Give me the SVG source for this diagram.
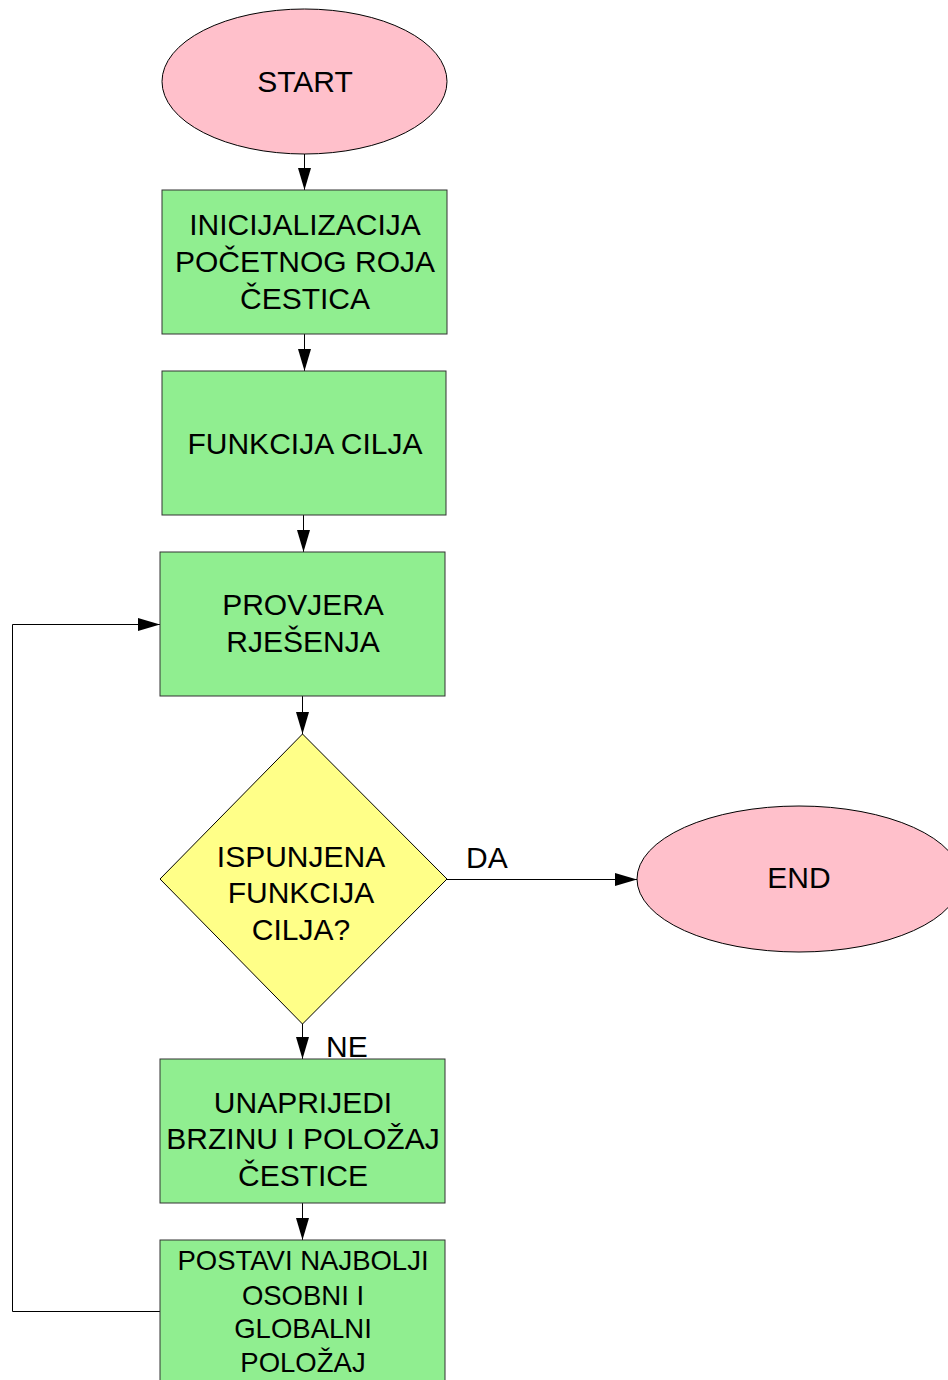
<svg xmlns="http://www.w3.org/2000/svg" width="948" height="1380" viewBox="0 0 948 1380">
<style>
text{font-family:"Liberation Sans",Arial,sans-serif;font-size:30px;fill:#000;text-anchor:middle}
.box{fill:#90ee90;stroke:#333;stroke-width:1}
.term{fill:#ffc0cb;stroke:#000;stroke-width:1}
.dec{fill:#ffff88;stroke:#000;stroke-width:1}
.con{fill:none;stroke:#000;stroke-width:1}
.lbl{text-anchor:start}
</style>
<defs>
<marker id="ah" markerUnits="userSpaceOnUse" markerWidth="22" markerHeight="13" refX="22" refY="6.5" orient="auto">
<path d="M0,0 L22,6.5 L0,13 z" fill="#000"/>
</marker>
</defs>
<rect width="948" height="1380" fill="#fff"/>
<g id="connectors">
<path class="con" d="M304.5,154 V190" marker-end="url(#ah)"/>
<path class="con" d="M304.5,334 V371" marker-end="url(#ah)"/>
<path class="con" d="M303.5,515 V552" marker-end="url(#ah)"/>
<path class="con" d="M302.5,696 V734" marker-end="url(#ah)"/>
<path class="con" d="M447,879.5 H637" marker-end="url(#ah)"/>
<path class="con" d="M302.5,1024 V1059" marker-end="url(#ah)"/>
<path class="con" d="M302.5,1203 V1240" marker-end="url(#ah)"/>
<path class="con" d="M160,1311.5 H12.5 V624.5 H160" marker-end="url(#ah)"/>
<text class="lbl" x="466" y="868">DA</text>
<text class="lbl" x="326" y="1057">NE</text>
</g>
<g id="start">
<ellipse class="term" cx="304.5" cy="81.5" rx="142.5" ry="72.5"/>
<text x="305" y="91.5">START</text>
</g>
<g id="init">
<rect class="box" x="162" y="190" width="285" height="144"/>
<text x="305" y="235">INICIJALIZACIJA</text>
<text x="305" y="272">POČETNOG ROJA</text>
<text x="305" y="309">ČESTICA</text>
</g>
<g id="funkcija">
<rect class="box" x="162" y="371" width="284" height="144"/>
<text x="305" y="454">FUNKCIJA CILJA</text>
</g>
<g id="provjera">
<rect class="box" x="160" y="552" width="285" height="144"/>
<text x="303" y="615">PROVJERA</text>
<text x="303" y="652">RJEŠENJA</text>
</g>
<g id="odluka">
<polygon class="dec" points="302.5,734 447,879 302.5,1024 160,879"/>
<text x="301" y="867">ISPUNJENA</text>
<text x="301" y="903">FUNKCIJA</text>
<text x="301" y="940">CILJA?</text>
</g>
<g id="end">
<ellipse class="term" cx="799" cy="879" rx="162" ry="73"/>
<text x="799" y="888">END</text>
</g>
<g id="unaprijedi">
<rect class="box" x="160" y="1059" width="285" height="144"/>
<text x="303" y="1113">UNAPRIJEDI</text>
<text x="303" y="1149">BRZINU I POLOŽAJ</text>
<text x="303" y="1186">ČESTICE</text>
</g>
<g id="postavi">
<rect class="box" x="160" y="1240" width="285" height="146"/>
<text x="303" y="1270" style="font-size:27.5px">POSTAVI NAJBOLJI</text>
<text x="303" y="1305" style="font-size:27.5px">OSOBNI I</text>
<text x="303" y="1338" style="font-size:27.5px">GLOBALNI</text>
<text x="303" y="1372" style="font-size:27.5px">POLOŽAJ</text>
</g>
</svg>
